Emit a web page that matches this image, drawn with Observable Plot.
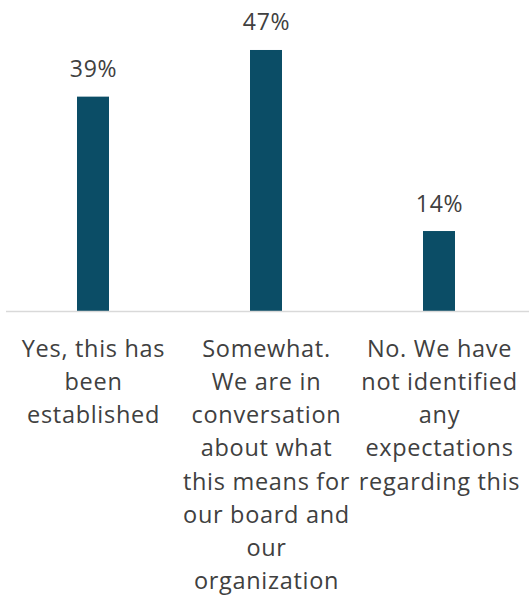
<!DOCTYPE html>
<html>
<head>
<meta charset="utf-8">
<script src="https://cdn.jsdelivr.net/npm/d3@7"></script>
<script src="https://cdn.jsdelivr.net/npm/@observablehq/plot@0.6"></script>
<style>
  html, body { margin: 0; padding: 0; background: #fff; }
  #chart svg { display: block; }
</style>
</head>
<body>
<div id="chart"></div>
<script>
const categories = [
  "Yes, this has\nbeen\nestablished",
  "Somewhat.\nWe are in\nconversation\nabout what\nthis means for\nour board and\nour\norganization",
  "No. We have\nnot identified\nany\nexpectations\nregarding this"
];
const values = [38.6, 47, 14.4];
const valueLabels = ["39%", "47%", "14%"];

const data = categories.map((c, i) => ({category: c, value: values[i], label: valueLabels[i]}));

const font = "'Open Sans', 'Liberation Sans', sans-serif";

const chart = Plot.plot({
  width: 529,
  height: 598,
  marginTop: 0,
  marginLeft: 6,
  marginRight: 0,
  marginBottom: 287,
  style: {fontFamily: font, background: "#fff", letterSpacing: "0.7px"},
  x: {domain: categories, range: [6, 526], paddingInner: 0.816, paddingOuter: 0.408, axis: null},
  y: {domain: [0, 56], axis: null},
  marks: [
    Plot.barY(data, {x: "category", y: "value", fill: "#0b4d66"}),
    Plot.ruleY([0], {stroke: "#d9d9d9", strokeWidth: 1.5}),
    Plot.text(data, {x: "category", y: "value", text: "label", lineAnchor: "bottom", dy: -20, fontSize: 23, fill: "#404040"}),
    Plot.text(data, {x: "category", y: () => 0, text: "category", lineAnchor: "top", dy: 22, fontSize: 23.5, lineHeight: 1.41, fill: "#404040"})
  ]
});
document.getElementById("chart").appendChild(chart);
</script>
</body>
</html>
